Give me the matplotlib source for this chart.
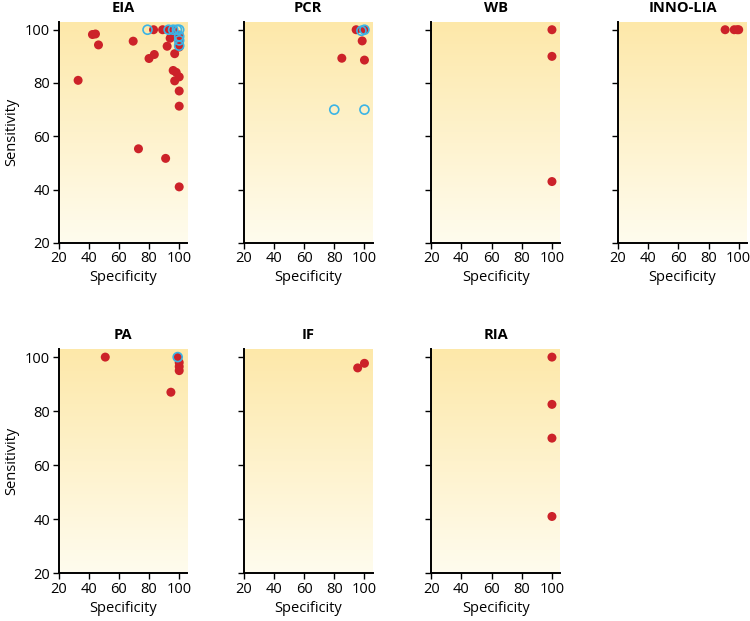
import numpy as np
import matplotlib
matplotlib.use('Agg')
import matplotlib.pyplot as plt
from matplotlib.colors import LinearSegmentedColormap

plt.rcParams['font.family'] = ['Open Sans', 'DejaVu Sans']

# Datos por prueba: (especificidad, sensibilidad)
eia_red_x = [33, 42.5, 44.5, 46.5, 69.5, 73, 80, 83.5, 83, 89, 91, 92, 94, 93, 96, 97, 100,
             100, 97, 96, 98, 100, 97, 100, 100, 100, 100]
eia_red_y = [81, 98.2, 98.4, 94.3, 95.7, 55.3, 89.2, 90.7, 100, 100, 51.7, 93.8, 96.8, 100, 100,
             98.5, 98, 95, 91, 84.7, 84, 82.3, 80.8, 77, 71.3, 41, 93.5]
eia_open_x = [79, 93, 96, 98.5, 100, 100, 100, 100]
eia_open_y = [100, 100, 100, 100, 100, 97.5, 96, 94]

pcr_red_x = [94.5, 100, 98.5, 85, 100]
pcr_red_y = [100, 100, 95.8, 89.3, 88.6]
pcr_open_x = [98, 100, 80, 100]
pcr_open_y = [99.6, 100, 70, 70]

wb_red_x = [100, 100, 100]
wb_red_y = [100, 90, 43]

lia_red_x = [91, 97, 99, 100]
lia_red_y = [100, 100, 100, 100]

pa_red_x = [51, 94.5, 99, 100, 100, 100]
pa_red_y = [100, 87, 100, 98, 96.5, 95]
pa_open_x = [99]
pa_open_y = [100]

if_red_x = [95.5, 100]
if_red_y = [96, 97.7]

ria_red_x = [100, 100, 100, 100]
ria_red_y = [100, 82.5, 70, 41]

paneles = [
    ('EIA', eia_red_x, eia_red_y, eia_open_x, eia_open_y),
    ('PCR', pcr_red_x, pcr_red_y, pcr_open_x, pcr_open_y),
    ('WB', wb_red_x, wb_red_y, [], []),
    ('INNO-LIA', lia_red_x, lia_red_y, [], []),
    ('PA', pa_red_x, pa_red_y, pa_open_x, pa_open_y),
    ('IF', if_red_x, if_red_y, [], []),
    ('RIA', ria_red_x, ria_red_y, [], []),
]

rojo = '#cc2229'
cian = '#3cb4e5'
fondo = LinearSegmentedColormap.from_list('fondo', ['#fffcee', '#fde8a9'])

fig = plt.figure(figsize=(7.5, 6.21), dpi=100)
lefts = [0.078, 0.325, 0.575, 0.824]
rows = [(0.609, 0.356), (0.077, 0.361)]

xlim = (20, 105.5)
ylim = (20, 103)

for i, (nombre, rx, ry, ox, oy) in enumerate(paneles):
    fila, col = divmod(i, 4)
    ax = fig.add_axes([lefts[col], rows[fila][0], 0.172, rows[fila][1]])
    grad = np.linspace(0, 1, 256).reshape(-1, 1)
    ax.imshow(grad, extent=[xlim[0], xlim[1], ylim[0], ylim[1]], origin='lower',
              aspect='auto', cmap=fondo, zorder=0)
    ax.scatter(rx, ry, s=42, color=rojo, edgecolors='none', zorder=3)
    if ox:
        ax.scatter(ox, oy, s=42, facecolors='none', edgecolors=cian, linewidths=1.2, zorder=4)
    ax.set_xlim(*xlim)
    ax.set_ylim(*ylim)
    ax.set_xticks([20, 40, 60, 80, 100])
    ax.set_yticks([20, 40, 60, 80, 100])
    for lado in ['top', 'right']:
        ax.spines[lado].set_visible(False)
    for lado in ['left', 'bottom']:
        ax.spines[lado].set_linewidth(1.4)
    ax.tick_params(direction='out', length=4, width=1, labelsize=10.5, pad=2)
    ax.set_title(nombre, fontsize=10.5, fontweight='bold', pad=7)
    ax.set_xlabel('Specificity', fontsize=10.5, labelpad=3)
    if col == 0:
        ax.set_ylabel('Sensitivity', fontsize=10.5, labelpad=4)
    else:
        ax.set_yticklabels([])

plt.savefig('out.png', dpi=100)
